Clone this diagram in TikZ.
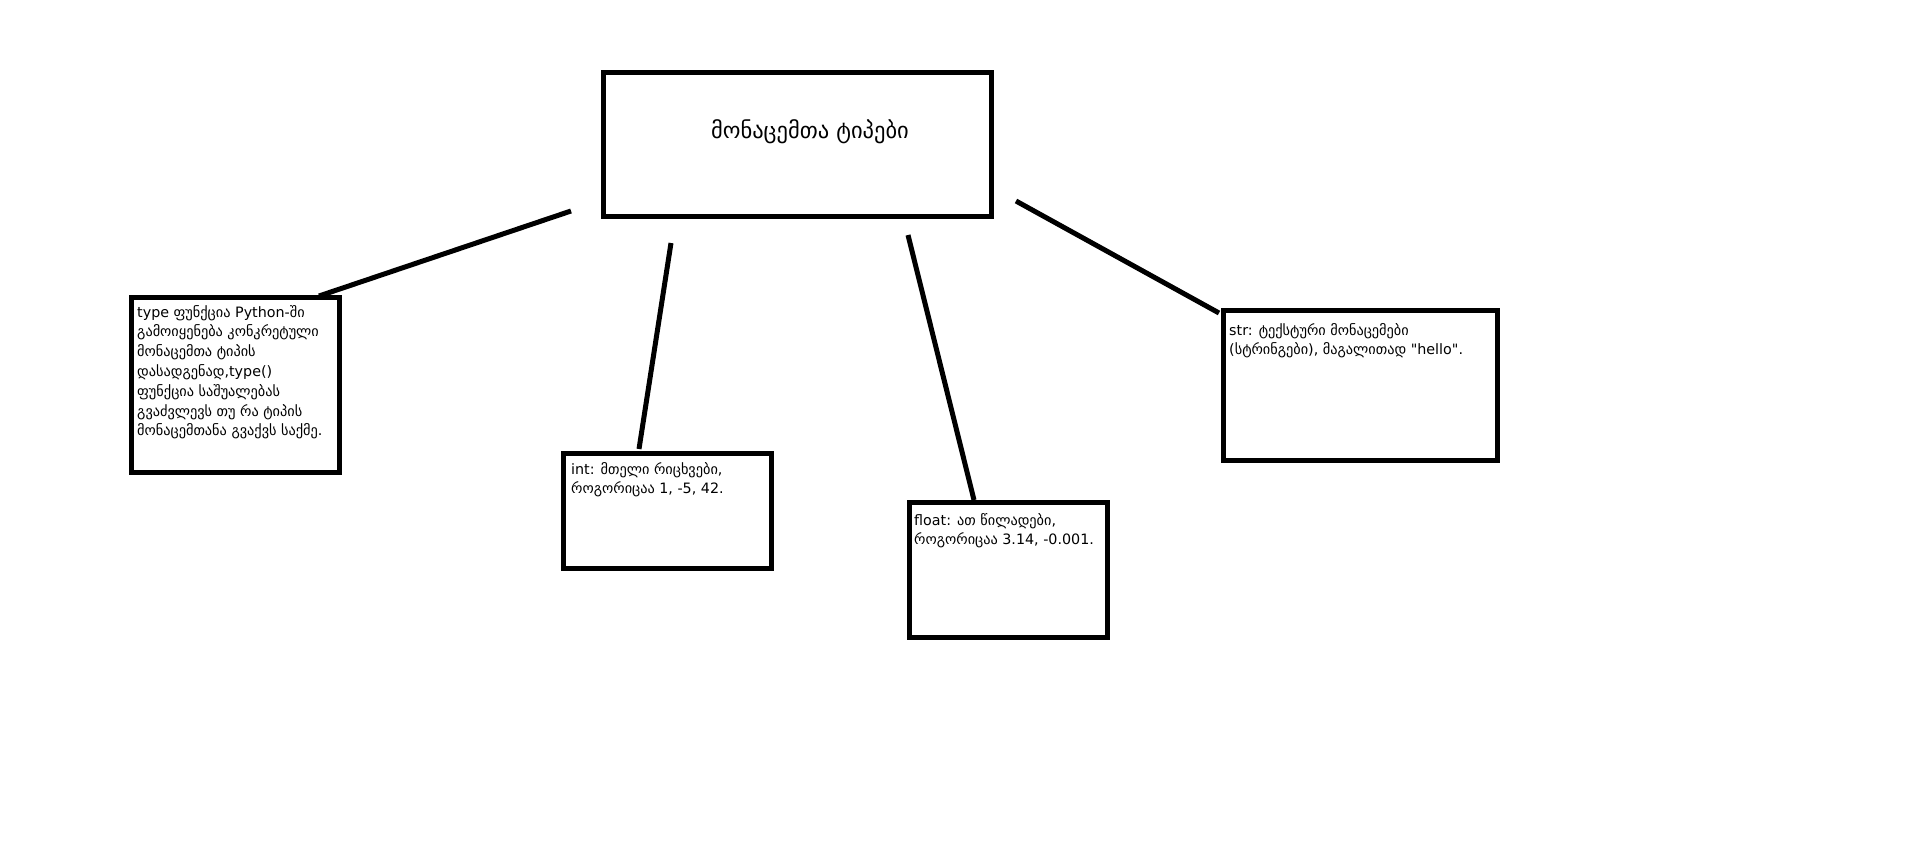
\documentclass[tikz,border=0pt]{standalone}
\usepackage{fontspec}
\newfontfamily\geo{DejaVu Sans}
\begin{document}
\begin{tikzpicture}[x=1pt,y=-1pt,
  box/.style={draw=black,line width=5pt,fill=white,rectangle,inner sep=0pt},
  conn/.style={draw=black,line width=5pt},
  txt/.style={inner sep=0pt,anchor=north west,align=left,font=\geo\fontsize{14.3}{19.8}\selectfont}]
\useasboundingbox[fill=white] (0,0) rectangle (1912,860);
% boxes
\node[box,minimum width=388pt,minimum height=144pt] (main) at (797,144) {};
\node[box,minimum width=208pt,minimum height=175pt] (b1) at (235,384.5) {};
\node[box,minimum width=208pt,minimum height=115pt] (b2) at (667,510.5) {};
\node[box,minimum width=198pt,minimum height=135pt] (b3) at (1008,569.5) {};
\node[box,minimum width=274pt,minimum height=150pt] (b4) at (1360,385) {};
% texts
\node[inner sep=0pt,font=\geo\fontsize{22.5}{26}\selectfont] (t0) at (810,132) {მონაცემთა ტიპები};
\node[txt] (t1) at (137,305) {type ფუნქცია Python-ში\\გამოიყენება კონკრეტული\\მონაცემთა ტიპის\\დასადგენად,type()\\ფუნქცია საშუალებას\\გვაძვლევს თუ რა ტიპის\\მონაცემთანა გვაქვს საქმე.};
\node[txt] (t2) at (571,462) {int: მთელი რიცხვები,\\როგორიცაა 1, -5, 42.};
\node[txt] (t3) at (914,513) {float: ათ წილადები,\\როგორიცაა 3.14, -0.001.};
\node[txt] (t4) at (1229,323) {str: ტექსტური მონაცემები\\(სტრინგები), მაგალითად "hello".};
% connector ends
\coordinate (c1a) at (571,211);
\coordinate (c1b) at (319,296);
\coordinate (c2a) at (671,243);
\coordinate (c2b) at (639,449);
\coordinate (c3a) at (908,235);
\coordinate (c3b) at (974,500);
\coordinate (c4a) at (1016,201);
\coordinate (c4b) at (1219,313);
\draw[conn] (c1a) -- (c1b);
\draw[conn] (c2a) -- (c2b);
\draw[conn] (c3a) -- (c3b);
\draw[conn] (c4a) -- (c4b);
\end{tikzpicture}
\end{document}
